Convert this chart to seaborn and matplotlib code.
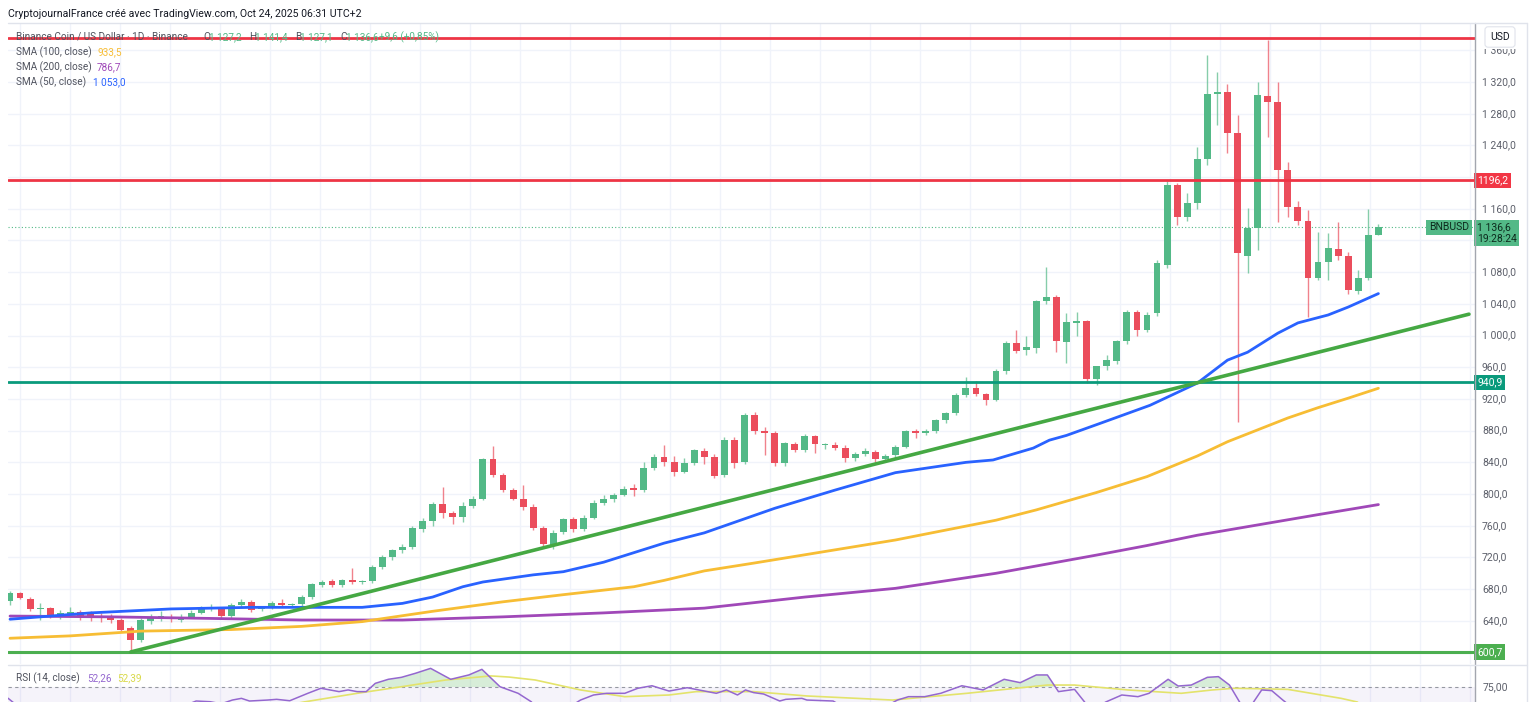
import numpy as np
import pandas as pd
import matplotlib
matplotlib.use('Agg')
import matplotlib.pyplot as plt
import matplotlib.transforms as mtransforms
from matplotlib.lines import Line2D
import seaborn as sns

# ---- daily candles BNB / USD ----
opens = [665, 675, 668, 655, 656, 646, 648, 651, 648, 646, 646, 641, 631, 616, 640, 643, 645, 641, 645, 650,
         656, 656, 646, 660, 664, 655, 657, 663, 660, 661, 670, 685, 690, 685, 692, 689, 690, 708, 720, 729,
         733, 756, 766, 787, 776, 771, 785, 794, 844, 824, 805, 794, 784, 757, 736, 752, 768, 756, 770, 789,
         794, 799, 807, 805, 833, 847, 841, 828, 839, 854, 847, 824, 868, 840, 900, 880, 877, 839, 863, 855,
         873, 862, 862, 858, 845, 851, 853, 844, 849, 860, 879, 877, 879, 893, 902, 925, 934, 926, 919, 955,
         991, 982, 984, 1044, 1049, 992, 1016, 1018, 945, 961, 968, 993, 1030, 1007, 1028, 1089, 1190, 1150, 1167, 1223,
         1305, 1307, 1256, 1100, 1136, 1302, 1295, 1209, 1162, 1145, 1073, 1093, 1109, 1100, 1056, 1073, 1127.2]
highs = [678, 677, 670, 662, 658, 654, 657, 654, 652, 650, 648, 643, 634, 643, 648, 652, 648, 648, 654, 659,
         661, 658, 662, 667, 666, 659, 665, 668, 663, 672, 688, 692, 693, 693, 707, 692, 710, 723, 731, 737,
         760, 770, 790, 809, 779, 790, 797, 846, 861, 826, 808, 811, 787, 760, 755, 770, 771, 773, 792, 799,
         801, 810, 813, 840, 850, 862, 848, 845, 857, 858, 851, 872, 872, 902, 903, 885, 880, 866, 866, 876,
         875, 865, 866, 862, 853, 858, 856, 850, 862, 881, 882, 882, 895, 904, 927, 948, 943, 928, 958, 993,
         1007, 1000, 1045, 1086, 1051, 1028, 1030, 1020, 962, 975, 995, 1032, 1032, 1030, 1095, 1195, 1192, 1180, 1238, 1354,
         1333, 1318, 1278, 1161, 1320, 1373, 1320, 1219, 1170, 1158, 1131, 1130, 1143, 1105, 1083, 1160, 1141.4]
lows = [660, 667, 653, 641, 643, 642, 645, 641, 640, 638, 637, 626, 601, 613, 636, 640, 639, 638, 643, 648,
        652, 643, 644, 657, 651, 652, 655, 657, 657, 659, 668, 683, 683, 683, 686, 687, 688, 705, 717, 726,
        731, 752, 760, 770, 762, 765, 782, 792, 822, 803, 792, 780, 755, 733, 731, 749, 752, 753, 768, 786,
        790, 797, 797, 803, 830, 835, 823, 826, 837, 838, 820, 821, 833, 838, 876, 849, 835, 835, 853, 853,
        852, 857, 855, 841, 842, 848, 840, 842, 846, 858, 871, 874, 877, 890, 900, 922, 924, 912, 917, 952,
        978, 975, 978, 1040, 979, 965, 1000, 940, 938, 957, 964, 990, 1000, 1004, 1025, 1085, 1140, 1145, 1160, 1215,
        1266, 1230, 891, 1079, 1108, 1251, 1143, 1150, 1140, 1023, 1070, 1070, 1095, 1053, 1053, 1070, 1127.1]
closes = [675, 669, 655, 656, 645, 650, 651, 646, 645, 643, 641, 628, 616, 641, 645, 646, 642, 645, 650, 656,
          657, 646, 660, 664, 654, 656, 662, 660, 661, 670, 686, 689, 685, 691, 689, 690, 708, 720, 729, 733,
          757, 766, 787, 776, 771, 785, 794, 844, 824, 805, 794, 784, 757, 737, 751, 768, 756, 770, 789, 794,
          799, 806, 805, 833, 847, 841, 828, 839, 855, 847, 823, 868, 839, 900, 880, 877, 839, 864, 855, 873,
          863, 862, 858, 845, 851, 854, 844, 848, 860, 879, 877, 879, 893, 902, 925, 934, 926, 919, 955, 991,
          981, 986, 1044, 1049, 993, 1017, 1018, 945, 961, 969, 993, 1030, 1007, 1026, 1091, 1190, 1150, 1167, 1223, 1305,
          1307, 1256, 1104, 1136, 1304, 1295, 1209, 1162, 1145, 1073, 1093, 1110, 1100, 1057, 1073, 1127, 1136.6]

# moving averages (bar index, value)
sma50_idx = [0, 8, 16, 24, 29, 35, 39, 42, 45, 47, 52, 55, 59, 62, 65, 69, 76, 82, 88, 95, 97.7, 101.7,
             103.3, 105, 108.3, 113.3, 118, 121, 123, 126, 128, 131, 133, 136]
sma50_val = [642, 650, 655, 657, 657, 657, 662, 670, 683, 689, 698, 702, 714, 726, 738, 751, 782, 805, 827,
             840, 843, 858, 868, 874, 889, 912, 940, 969, 979, 1003, 1016, 1026, 1036, 1053.0]
sma100_idx = [0, 6, 13, 22, 29, 35, 42, 49, 55, 62, 65, 69, 74, 88, 98, 102, 108, 113, 118, 121, 124, 127,
              130, 133, 136]
sma100_val = [618, 621, 627, 629, 633, 639, 652, 664, 673, 683, 691, 703, 713, 742, 767, 780, 802, 822, 848,
              866, 881, 896, 909, 921, 933.5]
sma200_idx = [0, 10, 20, 29, 39, 49, 59, 69, 79, 88, 98, 108, 113, 118, 124, 130, 136]
sma200_val = [646, 645, 643, 641, 641, 645, 650, 656, 670, 681, 700, 723, 735, 748, 761, 774, 786.7]

# drawn levels
trend_idx = [12, 145]
trend_val = [600.7, 1027]
resist_top = 1376
resist_mid = 1196.2
support_mid = 940.9
support_low = 600.7
last_price = 1136.6

# RSI (14) and its moving average
rsi_idx = [-0.2, 1, 5, 10, 15, 18.5, 19.9, 21, 22.1, 23.0, 23.8, 25.6, 26.5, 27.8, 29.6, 30.9, 31.8, 32.7,
           33.6, 34.5, 35.4, 36.3, 37.6, 38.9, 40.3, 41.8, 43.8, 45.6, 46.9, 48.7, 50.5, 51.8, 53, 55, 56.7,
           58.0, 59.3, 61.1, 62.4, 63.8, 65.5, 67.3, 70.2, 71.2, 72.3, 73.1, 73.9, 74.9, 76.5, 77.1, 78.7,
           79.2, 81.8, 83, 85, 87, 88.2, 89.3, 90.9, 92.5, 94.6, 96.7, 98.8, 100.4, 102.0, 103.1, 104.2,
           105.8, 106.8, 107.5, 108.9, 110.5, 112.1, 113.2, 115.1, 116.1, 117.4, 119.0, 120.1, 121.2, 122.2,
           123, 124.4, 125.4, 126.5, 127.5, 129, 133, 136]
rsi_val = [67, 60, 52, 45, 55, 65.0, 64.5, 63, 65.7, 66.9, 65.0, 65.7, 66.2, 65.2, 70.5, 74.1, 72.9, 71.7,
           72.9, 71.7, 71.7, 77.6, 80.5, 81.9, 84.8, 88.3, 80.5, 83.6, 87.6, 75.2, 70.5, 64.5, 55, 58, 65.7,
           69.3, 70.5, 70.5, 74.1, 75.9, 72.1, 74.5, 70.5, 72.9, 69.3, 72.9, 71.0, 70.0, 65.0, 66.2, 66.9,
           65.7, 65.0, 60, 58, 61, 65.7, 68.1, 68.1, 70.5, 75.9, 72.9, 80.5, 78.1, 83.6, 83.6, 71.7,
           73.3, 64.3, 58, 64.3, 69.3, 68.1, 70.5, 80.5, 75.7, 76.4, 81.9, 82.4, 76.4, 64.3,
           58, 72.9, 72.4, 65.7, 60, 50, 47, 52.26]
rsi_ma_idx = [-0.2, 20, 29.2, 34.5, 38.9, 43.3, 47.8, 49.6, 52.2, 56.7, 61.1, 65.5, 68.2, 73.9, 79.2, 87.7,
              95.1, 103.1, 105.8, 111.1, 116.4, 119.5, 121.7, 127.0, 132.3, 133.9, 136]
rsi_ma_val = [50, 52, 64.3, 70.5, 75.2, 80.0, 82.9, 82.1, 80.0, 72.9, 68.1, 69.3, 71.7, 71.7, 68.6, 65.7,
              70.5, 76.4, 76.4, 72.9, 70.5, 72.9, 74.1, 73.3, 66.9, 64.3, 52.39]

# ---- colours ----
UP = '#53b987'
DOWN = '#eb4d5c'
BLUE = '#2962ff'
YELLOW = '#f7bd34'
PURPLE = '#a048b8'
RED = '#ee3545'
TEAL = '#0a9a7c'
GREEN = '#4caf50'
TREND = '#45a843'
GRID = '#f0f3fa'
TXT = '#50535e'
FS = 7.2

sns.set_theme(style='white')
plt.rcParams['font.family'] = ['Roboto', 'DejaVu Sans']

W, H = 1536, 702
fig = plt.figure(figsize=(W / 100, H / 100), dpi=100)
fig.patch.set_facecolor('white')


def fx(x):
    return x / W


def fy(y):
    return 1 - y / H


def px_to_idx(x):
    return (x - 10) / 10.064


ax = fig.add_axes([fx(8), fy(664), fx(1475) - fx(8), fy(23) - fy(664)])
rax = fig.add_axes([fx(8), fy(702), fx(1475) - fx(8), fy(665) - fy(702)])

for a in (ax, rax):
    a.set_facecolor('white')
    for s in a.spines.values():
        s.set_visible(False)
    a.set_xlim(-0.2, 145.6)
    a.set_xticks([px_to_idx(x) for x in range(20, 1475, 50)])
    a.tick_params(length=0, labelleft=False, labelbottom=False)
    a.grid(True, color=GRID, lw=1)
    a.set_axisbelow(True)

ax.set_ylim(585.5, 1394.5)
ax.set_yticks(np.arange(600, 1400, 40))
rax.set_ylim(64.3, 90.7)
rax.set_yticks([])

# ---- candles ----
df = pd.DataFrame({'o': opens, 'h': highs, 'l': lows, 'c': closes})
df['i'] = np.arange(len(df))
up = df['c'] >= df['o']
colors = np.where(up, UP, DOWN)
body = (df['c'] - df['o']).to_numpy(dtype=float)
body = np.where(np.abs(body) < 1.5, 1.5, body)
ax.vlines(df['i'], df['l'], df['h'], colors=colors, lw=1, alpha=0.7, zorder=3)
ax.bar(df['i'], body, bottom=df['o'], width=0.68, color=colors, lw=0, zorder=4)

# ---- moving averages ----
sns.lineplot(x=sma200_idx, y=sma200_val, ax=ax, color=PURPLE, lw=2, estimator=None, zorder=5)
sns.lineplot(x=sma100_idx, y=sma100_val, ax=ax, color=YELLOW, lw=2, estimator=None, zorder=5)
sns.lineplot(x=sma50_idx, y=sma50_val, ax=ax, color=BLUE, lw=2, estimator=None, zorder=5)

# ---- drawn levels ----
ax.axhline(resist_top, color=RED, lw=2, zorder=6)
ax.axhline(resist_mid, color=RED, lw=2, zorder=6)
ax.axhline(support_mid, color=TEAL, lw=2, zorder=6)
ax.axhline(support_low, color=GREEN, lw=2.2, zorder=6)
ax.axhline(last_price, color=UP, lw=0.8, ls=(0, (1, 2)), zorder=2)
sns.lineplot(x=trend_idx, y=trend_val, ax=ax, color=TREND, lw=2.6, estimator=None, zorder=6)

# ---- RSI pane ----
rax.axhspan(0, 75, color='#7e57c2', alpha=0.07, lw=0)
rax.axhline(75, color='#9598a1', lw=0.8, ls=(0, (3, 3)))
r_x = np.array(rsi_idx)
r_y = np.array(rsi_val)
rax.fill_between(r_x, r_y, 75, where=r_y >= 75, interpolate=True, color=GREEN, alpha=0.22, lw=0)
sns.lineplot(x=rsi_ma_idx, y=rsi_ma_val, ax=rax, color='#e3e36b', lw=1.2, estimator=None)
sns.lineplot(x=rsi_idx, y=rsi_val, ax=rax, color='#9467cf', lw=1.1, estimator=None)
for a in (ax, rax):
    a.set_xlabel('')
    a.set_ylabel('')

# ---- frame lines ----
fig.add_artist(Line2D([fx(1475), fx(1475)], [fy(23), fy(702)], color='#a3a6af', lw=1))
fig.add_artist(Line2D([fx(8), fx(1527)], [fy(665), fy(665)], color='#e0e3eb', lw=1))
fig.add_artist(Line2D([fx(8), fx(1527)], [fy(23), fy(23)], color='#e0e3eb', lw=1))
fig.add_artist(Line2D([fx(1527), fx(1527)], [fy(23), fy(702)], color='#e0e3eb', lw=1))

# ---- right price scale ----
blend = mtransforms.blended_transform_factory(fig.transFigure, ax.transData)
under_tags = (1120, 1200)  # these labels sit behind the price tags
top_clip = mtransforms.TransformedBbox(mtransforms.Bbox([[fx(1476), 0], [1, fy(49)]]), fig.transFigure)
for p in np.arange(640, 1400, 40):
    if p in under_tags:
        continue
    lab = f'{int(p):,}'.replace(',', ' ') + ',0'
    t = ax.text(fx(1482), p, lab, transform=blend, fontsize=7.5, color='#5d606b', va='center', ha='left',
                clip_on=False)
    if p == 1360:
        t.set_clip_on(True)
        t.set_clip_box(top_clip)


def tag(price, text, fc, tc='white', x=1477, ha='left'):
    ax.text(fx(x), price, text, transform=blend, fontsize=7.5, color=tc, va='center', ha=ha, clip_on=False,
            bbox=dict(boxstyle='square,pad=0.25', fc=fc, ec='none'), zorder=10)


tag(resist_mid, '1196,2', '#f23645')
tag(support_mid, '940,9', TEAL)
tag(support_low, '600,7', GREEN)
tag(last_price, 'BNBUSD', UP, tc='#0d2b1d', x=1469, ha='right')
ax.annotate('1 136,6\n19:28:24', xy=(fx(1477), last_price), xycoords=blend, xytext=(0, 5),
            textcoords='offset pixels', fontsize=7.5, color='#0d2b1d', va='top', ha='left',
            linespacing=1.15, annotation_clip=False, zorder=10,
            bbox=dict(boxstyle='square,pad=0.25', fc=UP, ec='none'))

# USD box at the top of the scale
fig.text(fx(1500), fy(37), 'USD', fontsize=7.5, color='#131722', ha='center', va='center', zorder=20,
         bbox=dict(boxstyle='round,pad=0.5,rounding_size=0.3', fc='white', ec='#e0e3eb', lw=0.8))

rblend = mtransforms.blended_transform_factory(fig.transFigure, rax.transData)
rax.text(fx(1483), 75, '75,00', transform=rblend, fontsize=7.5, color='#5d606b', va='center', ha='left',
         clip_on=False)

# ---- header and legends ----
fig.text(fx(8), fy(14), 'CryptojournalFrance créé avec TradingView.com, Oct 24, 2025 06:31 UTC+2',
         fontsize=7.6, color='#131722', va='center', ha='left')

leg = [(16, 'Binance Coin / US Dollar · 1D · Binance', TXT),
       (203, 'O', TXT), (209, '1 127,2', UP), (249, 'H', TXT), (255, '1 141,4', UP),
       (295, 'B', TXT), (300, '1 127,1', UP), (340, 'C', TXT), (346, '1 136,6', UP),
       (379, '+9,6 (+0,85%)', UP)]
for x, s, c in leg:
    fig.text(fx(x), fy(37), s, fontsize=FS, color=c, va='center', ha='left', zorder=1)

fig.text(fx(16), fy(52), 'SMA (100, close)', fontsize=FS, color=TXT, va='center')
fig.text(fx(97), fy(52), '933,5', fontsize=FS, color=YELLOW, va='center')
fig.text(fx(16), fy(67), 'SMA (200, close)', fontsize=FS, color=TXT, va='center')
fig.text(fx(97), fy(67), '786,7', fontsize=FS, color=PURPLE, va='center')
fig.text(fx(16), fy(82), 'SMA (50, close)', fontsize=FS, color=TXT, va='center')
fig.text(fx(93), fy(82), '1 053,0', fontsize=FS, color=BLUE, va='center')

fig.text(fx(16), fy(678), 'RSI (14, close)', fontsize=FS, color=TXT, va='center')
fig.text(fx(87), fy(678), '52,26', fontsize=FS, color='#9467cf', va='center')
fig.text(fx(117), fy(678), '52,39', fontsize=FS, color='#d9d94a', va='center')

fig.savefig('out.png', dpi=100, facecolor='white')
